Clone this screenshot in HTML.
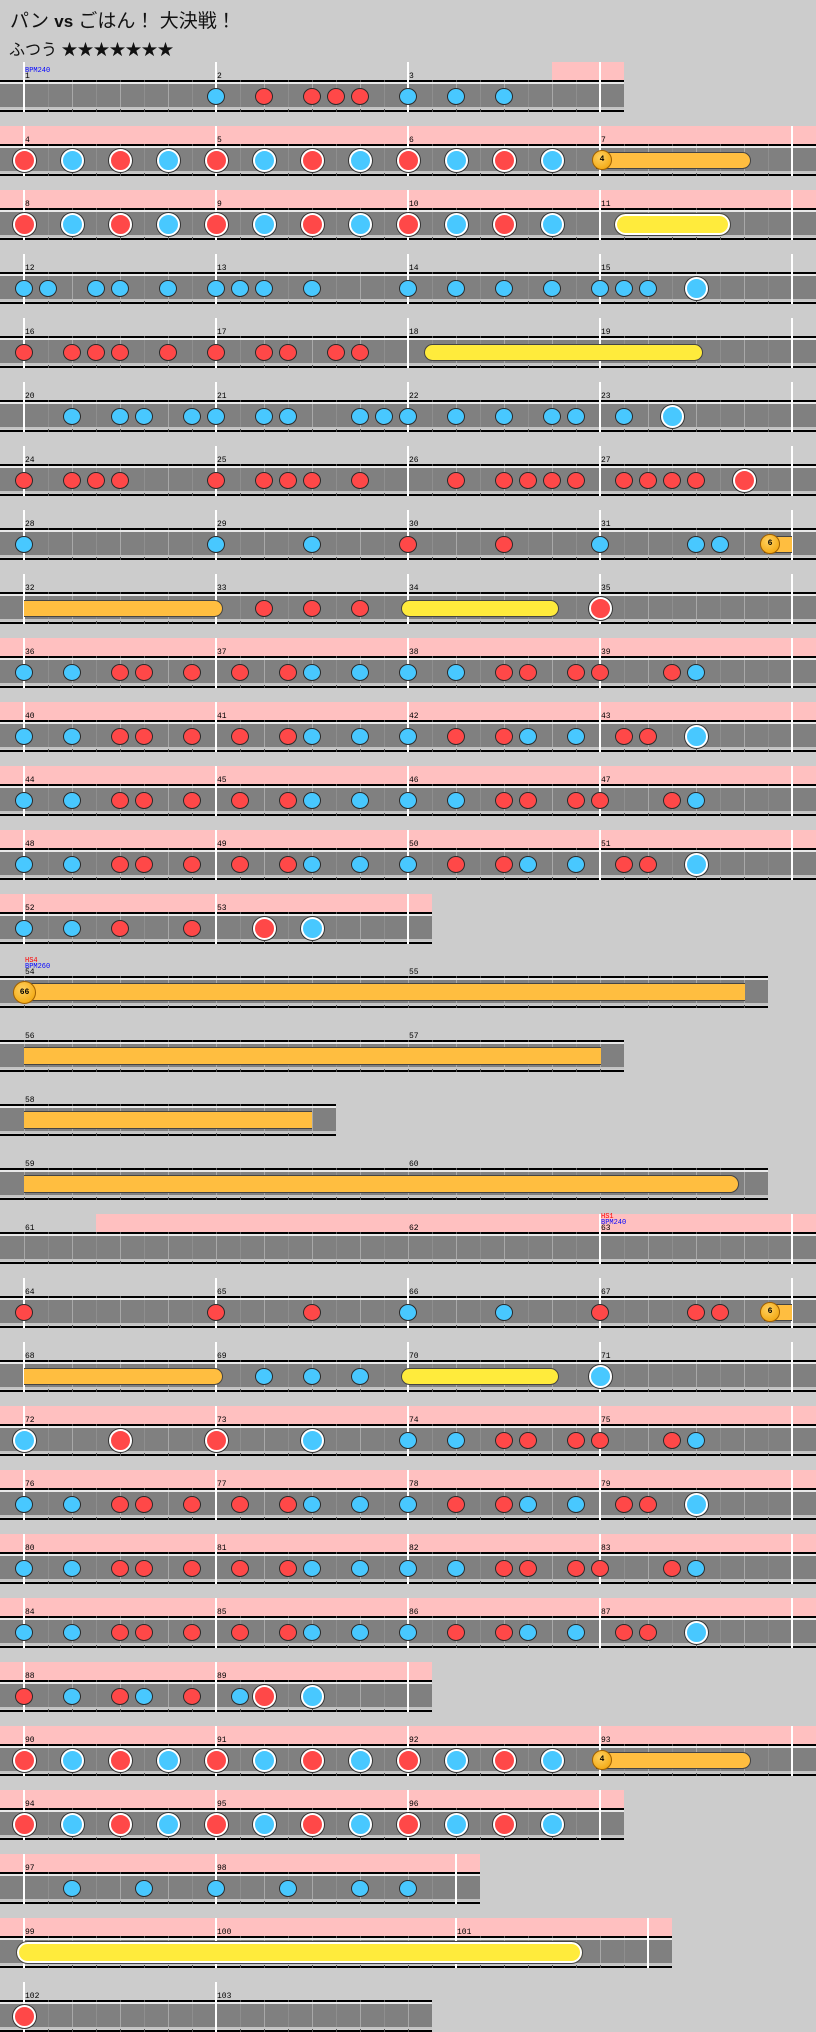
<!DOCTYPE html>
<html><head><meta charset="utf-8">
<style>
html,body{margin:0;padding:0;}
body{width:816px;height:2032px;background:#cccccc;position:relative;overflow:hidden;font-family:"Liberation Sans","Noto Sans CJK JP",sans-serif;}
.a{position:absolute;}
.pink{position:absolute;background:#ffc0c0;height:18px;}
.lane{position:absolute;height:32px;}
.lane .bt{position:absolute;left:0;right:0;top:0;height:2px;background:#000;}
.lane .w1{position:absolute;left:0;right:0;top:2px;height:2px;background:#e8e8e8;}
.lane .g{position:absolute;left:0;right:0;top:4px;height:23px;background:#808080;}
.lane .w2{position:absolute;left:0;right:0;top:27px;height:2px;background:#c4c4c4;}
.lane .bb{position:absolute;left:0;right:0;top:30px;height:2px;background:#000;}
.gl{position:absolute;width:1px;height:23px;}
.bar{position:absolute;width:2px;background:#fff;}
.num{position:absolute;font:8px "Liberation Mono",monospace;color:#000;line-height:7px;}
.lbl{position:absolute;font:7px "Liberation Mono",monospace;line-height:6px;}
.n{position:absolute;border-radius:50%;box-sizing:border-box;}
.s{width:18px;height:17px;border:1.5px solid #2a2a2a;}
.b{width:23px;height:23px;border:2px solid #fff;box-shadow:0 0 0 1px #333;}
.red{background:#ff4848;}
.blue{background:#48c8ff;}
.roll{position:absolute;box-sizing:border-box;border:1px solid #444;}
.bal{position:absolute;width:20px;height:20px;border-radius:50%;background:radial-gradient(circle at 40% 35%,#ffd060,#f0a000);border:1px solid #a06000;box-sizing:border-box;font:bold 8px "Liberation Mono",monospace;text-align:center;line-height:18px;color:#000;}
</style></head><body>
<div class="a" style="left:10px;top:6px;font-size:19px;color:#111;">パン <b style="font-size:17px">vs</b> ごはん！ 大決戦！</div>
<div class="a" style="left:9px;top:36px;font-size:16px;color:#111;">ふつう ★★★★★★★</div>
<div id="c"></div>
<script>
var c=document.getElementById('c'),h='';
function add(s){h+=s;}
var A=[[0,'k'],[2,'k'],[4,'d'],[5,'d'],[7,'d'],[9,'d'],[11,'d'],[12,'k'],[14,'k'],[16,'k'],[18,'k'],[20,'d'],[21,'d'],[23,'d'],[24,'d'],[27,'d'],[28,'k']];
var B=[[0,'k'],[2,'k'],[4,'d'],[5,'d'],[7,'d'],[9,'d'],[11,'d'],[12,'k'],[14,'k'],[16,'k'],[18,'d'],[20,'d'],[21,'k'],[23,'k'],[25,'d'],[26,'d'],[28,'K']];
var BIG=[];for(var i=0;i<12;i++)BIG.push([i*2,i%2?'K':'D']);
function seq(t,ks){return ks.map(function(k){return [k,t];});}
var rows=[
{w:624,pink:[552,624],bars:[24,216,408,600],nums:[[24,'1'],[216,'2'],[408,'3']],notes:[[8,'k'],[10,'d'],[12,'d'],[13,'d'],[14,'d'],[16,'k'],[18,'k'],[20,'k']],lbl:[[24,'BPM240','#0000ff',1]]},
{w:816,pink:[0,816],bars:[24,216,408,600,792],nums:[[24,'4'],[216,'5'],[408,'6'],[600,'7']],notes:BIG,bal:[600,751,'4']},
{w:816,pink:[0,816],bars:[24,216,408,600,792],nums:[[24,'8'],[216,'9'],[408,'10'],[600,'11']],notes:BIG,yroll:[614,731,1]},
{w:816,bars:[24,216,408,600,792],nums:[[24,'12'],[216,'13'],[408,'14'],[600,'15']],notes:seq('k',[0,1,3,4,6,8,9,10,12,16,18,20,22,24,25,26]).concat([[28,'K']])},
{w:816,bars:[24,216,408,600,792],nums:[[24,'16'],[216,'17'],[408,'18'],[600,'19']],notes:seq('d',[0,2,3,4,6,8,10,11,13,14]),yroll:[424,703,0]},
{w:816,bars:[24,216,408,600,792],nums:[[24,'20'],[216,'21'],[408,'22'],[600,'23']],notes:seq('k',[2,4,5,7,8,10,11,14,15,16,18,20,22,23,25]).concat([[27,'K']])},
{w:816,bars:[24,216,408,600,792],nums:[[24,'24'],[216,'25'],[408,'26'],[600,'27']],notes:seq('d',[0,2,3,4,8,10,11,12,14,18,20,21,22,23,25,26,27,28]).concat([[30,'D']])},
{w:816,bars:[24,216,408,600,792],nums:[[24,'28'],[216,'29'],[408,'30'],[600,'31']],notes:[[0,'k'],[8,'k'],[12,'k'],[16,'d'],[20,'d'],[24,'k'],[28,'k'],[29,'k']],bal:[768,792,'6']},
{w:816,bars:[24,216,408,600,792],nums:[[24,'32'],[216,'33'],[408,'34'],[600,'35']],notes:[[10,'d'],[12,'d'],[14,'d'],[24,'D']],oroll:[24,223],yroll:[401,559,0]},
{w:816,pink:[0,816],bars:[24,216,408,600,792],nums:[[24,'36'],[216,'37'],[408,'38'],[600,'39']],notes:A},
{w:816,pink:[0,816],bars:[24,216,408,600,792],nums:[[24,'40'],[216,'41'],[408,'42'],[600,'43']],notes:B},
{w:816,pink:[0,816],bars:[24,216,408,600,792],nums:[[24,'44'],[216,'45'],[408,'46'],[600,'47']],notes:A},
{w:816,pink:[0,816],bars:[24,216,408,600,792],nums:[[24,'48'],[216,'49'],[408,'50'],[600,'51']],notes:B},
{w:432,pink:[0,432],bars:[24,216,408],nums:[[24,'52'],[216,'53']],notes:[[0,'k'],[2,'k'],[4,'d'],[7,'d'],[10,'D'],[12,'K']]},
{w:768,bars:[],nums:[[24,'54'],[408,'55']],notes:[],bigbal:[24,745,'66'],lbl:[[24,'HS4','#ff0000',0],[24,'BPM260','#0000ff',1]]},
{w:624,bars:[],nums:[[24,'56'],[408,'57']],notes:[],oroll2:[24,601]},
{w:336,bars:[],nums:[[24,'58']],notes:[],oroll2:[24,312]},
{w:768,bars:[],nums:[[24,'59'],[408,'60']],notes:[],oroll2:[24,739,1]},
{w:816,pink:[96,816],bars:[600,792],nums:[[24,'61'],[408,'62'],[600,'63']],notes:[],lbl:[[600,'HS1','#ff0000',0],[600,'BPM240','#0000ff',1]]},
{w:816,bars:[24,216,408,600,792],nums:[[24,'64'],[216,'65'],[408,'66'],[600,'67']],notes:[[0,'d'],[8,'d'],[12,'d'],[16,'k'],[20,'k'],[24,'d'],[28,'d'],[29,'d']],bal:[768,792,'6']},
{w:816,bars:[24,216,408,600,792],nums:[[24,'68'],[216,'69'],[408,'70'],[600,'71']],notes:[[10,'k'],[12,'k'],[14,'k'],[24,'K']],oroll:[24,223],yroll:[401,559,0]},
{w:816,pink:[0,816],bars:[24,216,408,600,792],nums:[[24,'72'],[216,'73'],[408,'74'],[600,'75']],notes:[[0,'K'],[4,'D'],[8,'D'],[12,'K'],[16,'k'],[18,'k'],[20,'d'],[21,'d'],[23,'d'],[24,'d'],[27,'d'],[28,'k']]},
{w:816,pink:[0,816],bars:[24,216,408,600,792],nums:[[24,'76'],[216,'77'],[408,'78'],[600,'79']],notes:B},
{w:816,pink:[0,816],bars:[24,216,408,600,792],nums:[[24,'80'],[216,'81'],[408,'82'],[600,'83']],notes:A},
{w:816,pink:[0,816],bars:[24,216,408,600,792],nums:[[24,'84'],[216,'85'],[408,'86'],[600,'87']],notes:B},
{w:432,pink:[0,432],bars:[24,216,408],nums:[[24,'88'],[216,'89']],notes:[[0,'d'],[2,'k'],[4,'d'],[5,'k'],[7,'d'],[9,'k'],[10,'D'],[12,'K']]},
{w:816,pink:[0,816],bars:[24,216,408,600,792],nums:[[24,'90'],[216,'91'],[408,'92'],[600,'93']],notes:BIG,bal:[600,751,'4']},
{w:624,pink:[0,624],bars:[24,216,408,600],nums:[[24,'94'],[216,'95'],[408,'96']],notes:BIG},
{w:480,pink:[0,480],bars:[24,216,456],nums:[[24,'97'],[216,'98']],notes:seq('k',[2,5,8,11,14,16])},
{w:672,pink:[0,672],bars:[24,216,456,648],nums:[[24,'99'],[216,'100'],[456,'101']],notes:[],yroll:[16,583,1]},
{w:432,bars:[24,216],nums:[[24,'102'],[216,'103']],notes:[[0,'D']]}
];
rows.forEach(function(r,i){
 var T=62+64*i,w=r.w;
 if(r.pink)add('<div class="pink" style="left:'+r.pink[0]+'px;top:'+T+'px;width:'+(r.pink[1]-r.pink[0])+'px"></div>');
 add('<div class="lane" style="left:0;top:'+(T+18)+'px;width:'+w+'px"><div class="bt"></div><div class="w1"></div><div class="g"></div><div class="w2"></div><div class="bb"></div>');
 for(var x=24;x<w;x+=24){var beat=((x-24)%48==0);add('<div class="gl" style="left:'+x+'px;top:4px;background:'+(beat?'#a8a8a8':'#8e8e8e')+'"></div><div class="gl" style="left:'+x+'px;top:29px;height:3px;background:#555"></div><div class="gl" style="left:'+x+'px;top:0;height:2px;background:#555"></div>');}
 add('</div>');
 r.bars.forEach(function(x){add('<div class="bar" style="left:'+(x-1)+'px;top:'+T+'px;height:50px"></div>');});
 r.nums.forEach(function(n){add('<div class="num" style="left:'+(n[0]+1)+'px;top:'+(T+11)+'px">'+n[1]+'</div>');});
 if(r.lbl)r.lbl.forEach(function(l){add('<div class="lbl" style="left:'+(l[0]+1)+'px;top:'+(T+(l[3]?5.5:-0.5))+'px;color:'+l[2]+'">'+l[1]+'</div>');});
 var cy=T+34;
 if(r.oroll)add('<div class="roll" style="left:'+r.oroll[0]+'px;top:'+(cy-8)+'px;width:'+(r.oroll[1]-r.oroll[0])+'px;height:17px;background:#ffbe40;border-radius:0 9px 9px 0;border-left:none"></div>');
 if(r.oroll2)add('<div class="roll" style="left:'+r.oroll2[0]+'px;top:'+(cy-9)+'px;width:'+(r.oroll2[1]-r.oroll2[0])+'px;height:18px;background:#ffbe40;border-left:none;border-right:'+(r.oroll2[2]?'1px solid #444':'none')+';border-radius:'+(r.oroll2[2]?'0 9px 9px 0':'0')+'"></div>');
 if(r.yroll){var big=r.yroll[2],hh=big?23:17;add('<div class="roll" style="left:'+r.yroll[0]+'px;top:'+(cy-hh/2)+'px;width:'+(r.yroll[1]-r.yroll[0])+'px;height:'+hh+'px;background:#ffeb3c;border-radius:'+hh/2+'px;'+(big?'box-shadow:inset 0 0 0 2px #fff;':'')+'"></div>');}
 if(r.bal){add('<div class="roll" style="left:'+(r.bal[0]-4)+'px;top:'+(cy-8)+'px;width:'+(r.bal[1]-r.bal[0]+4)+'px;height:17px;background:#ffbe40;border-radius:0 9px 9px 0;'+(r.bal[1]>=792?'border-right:none;border-radius:0;':'')+'"></div>');add('<div class="bal" style="left:'+(r.bal[0]-8)+'px;top:'+(cy-10)+'px">'+r.bal[2]+'</div>');}
 if(r.bigbal){add('<div class="roll" style="left:'+r.bigbal[0]+'px;top:'+(cy-9)+'px;width:'+(r.bigbal[1]-r.bigbal[0])+'px;height:18px;background:#ffbe40;border-left:none;border-right:none"></div>');add('<div class="bal" style="left:'+(r.bigbal[0]-11)+'px;top:'+(cy-11)+'px;width:23px;height:23px;line-height:21px">'+r.bigbal[2]+'</div>');}
 r.notes.forEach(function(n){var x=24+24*n[0],t=n[1],isB=(t=='D'||t=='K'),col=(t=='d'||t=='D')?'red':'blue';
  if(isB)add('<div class="n b '+col+'" style="left:'+(x-11.5)+'px;top:'+(cy-11.5)+'px"></div>');
  else add('<div class="n s '+col+'" style="left:'+(x-9)+'px;top:'+(cy-8.5)+'px"></div>');});
});
c.innerHTML=h;
</script>
</body></html>
